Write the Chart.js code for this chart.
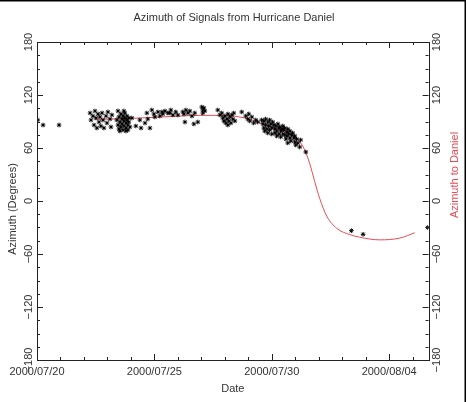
<!DOCTYPE html>
<html><head><meta charset="utf-8">
<script src="https://cdn.jsdelivr.net/npm/chart.js@4/dist/chart.umd.min.js"></script>
<style>html,body{margin:0;padding:0;background:#fff;}canvas{display:block;}</style>
</head><body>
<canvas id="c" width="468" height="402"></canvas>
<script>
const chartTitle = 'Azimuth of Signals from Hurricane Daniel';
const xTitle = 'Date';
const yLeftTitle = 'Azimuth (Degrees)';
const yRightTitle = 'Azimuth to Daniel';
// x values are days since 2000/07/20 00:00
const dateTickDays = [0, 5, 10, 15];
const dateTickLabels = ['2000/07/20', '2000/07/25', '2000/07/30', '2000/08/04'];
const azTickValues = [-180, -120, -60, 0, 60, 120, 180];
const azTickLabels = ['\u2212180', '\u2212120', '\u221260', '0', '60', '120', '180'];

const obsDays = [0.03,0.26,0.94,
2.26,2.30,2.38,2.43,2.47,2.51,2.55,2.60,2.64,2.68,2.72,2.77,2.81,2.85,2.94,2.98,3.02,3.11,3.15,3.19,3.45,
3.40,3.45,3.49,3.49,3.53,3.57,3.57,3.62,3.62,3.66,3.66,3.70,3.70,3.74,3.74,3.79,3.79,3.83,3.83,3.87,3.87,3.91,3.91,3.96,3.53,3.70,3.79,
4.04,4.21,4.38,4.43,4.60,4.68,4.72,4.81,4.89,4.98,5.02,5.15,5.23,5.32,5.36,5.45,5.57,5.66,5.70,5.79,5.91,6.00,6.21,6.26,6.30,6.34,6.43,6.51,6.60,6.68,6.72,6.85,
7.02,7.06,7.06,7.11,7.15,
7.70,7.79,7.87,7.91,7.96,8.00,8.04,8.09,8.13,8.13,8.17,8.21,8.26,8.30,8.34,8.38,8.43,
8.72,8.89,8.98,9.02,9.06,9.15,9.23,9.32,9.40,
9.57,9.62,9.66,9.66,9.70,9.74,9.74,9.79,9.83,9.83,9.87,9.91,9.91,9.96,10.00,10.00,10.04,
10.09,10.13,10.13,10.17,10.21,10.21,10.26,10.30,10.30,10.34,10.38,10.38,10.43,10.47,10.47,
10.51,10.55,10.55,10.60,10.64,10.64,10.68,10.68,10.72,10.77,10.77,10.81,10.85,
10.89,10.94,10.98,10.98,11.02,11.06,11.11,11.19,11.23,11.45,
13.39,13.89,16.64];
const obsAz = [91.7,86.0,86.0,
99.6,91.7,96.2,86.0,101.9,94.0,82.6,98.5,89.4,95.1,84.9,99.6,91.7,82.6,96.2,88.3,100.8,92.8,83.8,97.4,101.9,
91.7,86.0,95.1,81.5,89.4,98.5,83.8,92.8,87.2,96.2,80.4,90.6,84.9,94.0,99.6,88.3,82.6,96.2,91.7,86.0,80.4,94.0,89.4,83.8,79.2,101.9,79.2,
94.0,84.9,91.7,82.6,88.3,99.6,92.8,82.6,103.0,98.5,95.1,100.8,96.2,100.8,98.5,101.9,99.6,99.6,103.0,97.4,100.8,97.4,100.8,98.5,89.4,103.0,99.6,101.9,96.2,87.2,99.6,89.4,
106.4,103.0,99.6,105.3,101.9,
103.0,97.4,99.6,94.0,90.6,96.2,88.3,92.8,98.5,86.0,90.6,95.1,88.3,97.4,92.8,99.6,90.6,
100.8,96.2,92.8,98.5,90.6,95.1,88.3,91.7,89.4,
91.7,87.2,82.6,90.6,79.2,86.0,92.8,81.5,89.4,77.0,84.9,91.7,80.4,87.2,82.6,75.8,89.4,
86.0,81.5,77.0,84.9,73.6,79.2,87.2,82.6,75.8,83.8,79.2,72.5,81.5,75.8,84.9,
80.4,74.7,82.6,70.2,78.1,73.6,65.7,81.5,75.8,71.3,79.2,67.9,74.7,
77.0,71.3,66.8,73.6,63.4,70.2,65.7,61.1,69.1,55.5,
-33.6,-37.7,-30.0];

const modelDays = [2.47, 3.5, 4.81, 6.0, 6.94, 8.21, 9.06, 9.62, 10.47, 11.06, 11.4, 11.62, 11.83, 12.04, 12.34, 12.77, 13.32, 13.74, 14.6, 15.45, 16.09];
const modelAz = [92.5, 93, 94.5, 96, 97, 96.5, 92.5, 87, 79, 71, 58, 42, 22, 3, -17, -31, -38, -41, -44, -42, -36];

const FONT = '"Liberation Sans", Arial, sans-serif';
const TXT = '#333';
const RED = '#e84a55';

const decor = {
  id: 'decor',
  afterDraw(chart) {
    const ctx = chart.ctx, a = chart.chartArea;
    const xs = chart.scales.x, ys = chart.scales.y;
    ctx.save();
    ctx.strokeStyle = '#222';
    ctx.lineWidth = 1;
    ctx.strokeRect(Math.round(a.left) + 0.5, Math.round(a.top) + 0.5, Math.round(a.right - a.left), Math.round(a.bottom - a.top));
    ctx.beginPath();
    for (let d = 0; d <= 16; d++) {
      const px = Math.round(xs.getPixelForValue(d)) + 0.5;
      const len = (d % 5 === 0) ? 6 : 3;
      ctx.moveTo(px, a.bottom); ctx.lineTo(px, a.bottom - len);
      ctx.moveTo(px, a.top); ctx.lineTo(px, a.top + len);
    }
    for (let v = -180; v <= 180; v += 15) {
      const py = Math.round(ys.getPixelForValue(v)) + 0.5;
      const len = (v % 60 === 0) ? 6 : 3;
      ctx.moveTo(a.left, py); ctx.lineTo(a.left + len, py);
      ctx.moveTo(a.right, py); ctx.lineTo(a.right - len, py);
    }
    ctx.stroke();
    // rotated y tick labels
    ctx.fillStyle = TXT;
    ctx.font = '11px ' + FONT;
    ctx.textAlign = 'center';
    ctx.textBaseline = 'middle';
    azTickValues.forEach((v, i) => {
      const py = ys.getPixelForValue(v);
      [a.left - 8, a.right + 8].forEach(px => {
        ctx.save(); ctx.translate(px, py); ctx.rotate(-Math.PI / 2);
        ctx.fillText(azTickLabels[i], 0, 0); ctx.restore();
      });
    });
    // axis titles
    ctx.font = '11px ' + FONT;
    ctx.save(); ctx.translate(13, 209); ctx.rotate(-Math.PI / 2);
    ctx.fillText(yLeftTitle, 0, 0); ctx.restore();
    ctx.fillStyle = RED;
    ctx.save(); ctx.translate(455, 175); ctx.rotate(-Math.PI / 2);
    ctx.fillText(yRightTitle, 0, 0); ctx.restore();
    // chart title
    ctx.fillStyle = TXT;
    ctx.fillText(chartTitle, 234, 18);
    // image frame (top and right)
    ctx.fillStyle = '#000';
    ctx.fillRect(0, 0, 466, 1.5);
    ctx.fillRect(464.5, 0, 1.5, 402);
    ctx.restore();
  }
};

new Chart(document.getElementById('c'), {
  type: 'scatter',
  data: {
    datasets: [
      {
        label: 'Signals',
        data: obsDays.map((d, i) => ({x: d, y: obsAz[i]})),
        pointStyle: 'star',
        pointRadius: 2.3,
        borderColor: '#000',
        backgroundColor: '#000',
        borderWidth: 1,
        order: 1
      },
      {
        type: 'line',
        label: 'Azimuth to Daniel',
        data: modelDays.map((d, i) => ({x: d, y: modelAz[i]})),
        borderColor: RED,
        borderWidth: 1,
        pointRadius: 0,
        fill: false,
        cubicInterpolationMode: 'monotone',
        order: 2
      }
    ]
  },
  options: {
    responsive: false,
    animation: false,
    devicePixelRatio: 1,
    layout: {padding: {top: 42, left: 0, right: 0, bottom: 0}},
    plugins: {legend: {display: false}, title: {display: false}, tooltip: {enabled: false}},
    scales: {
      x: {
        type: 'linear', position: 'bottom', min: 0, max: 16.68,
        afterBuildTicks: s => { s.ticks = dateTickDays.map(v => ({value: v})); },
        ticks: {
          callback: v => { const i = dateTickDays.indexOf(v); return i >= 0 ? dateTickLabels[i] : ''; },
          font: {family: FONT, size: 11}, color: TXT, padding: 5, maxRotation: 0, autoSkip: false
        },
        grid: {display: false, drawTicks: false, tickLength: 0},
        border: {display: false},
        title: {display: true, text: xTitle, font: {family: FONT, size: 11}, color: TXT, padding: {top: 0, bottom: 6}},
        afterFit: s => { s.height = 42; }
      },
      y: {
        type: 'linear', position: 'left', min: -180, max: 180,
        ticks: {display: false},
        grid: {display: false, drawTicks: false, tickLength: 0},
        border: {display: false},
        afterFit: s => { s.width = 37; }
      },
      y2: {
        type: 'linear', position: 'right', min: -180, max: 180, display: true,
        ticks: {display: false},
        grid: {display: false, drawTicks: false, tickLength: 0},
        border: {display: false},
        afterFit: s => { s.width = 39.4; }
      }
    }
  },
  plugins: [decor]
});
</script>
</body></html>
